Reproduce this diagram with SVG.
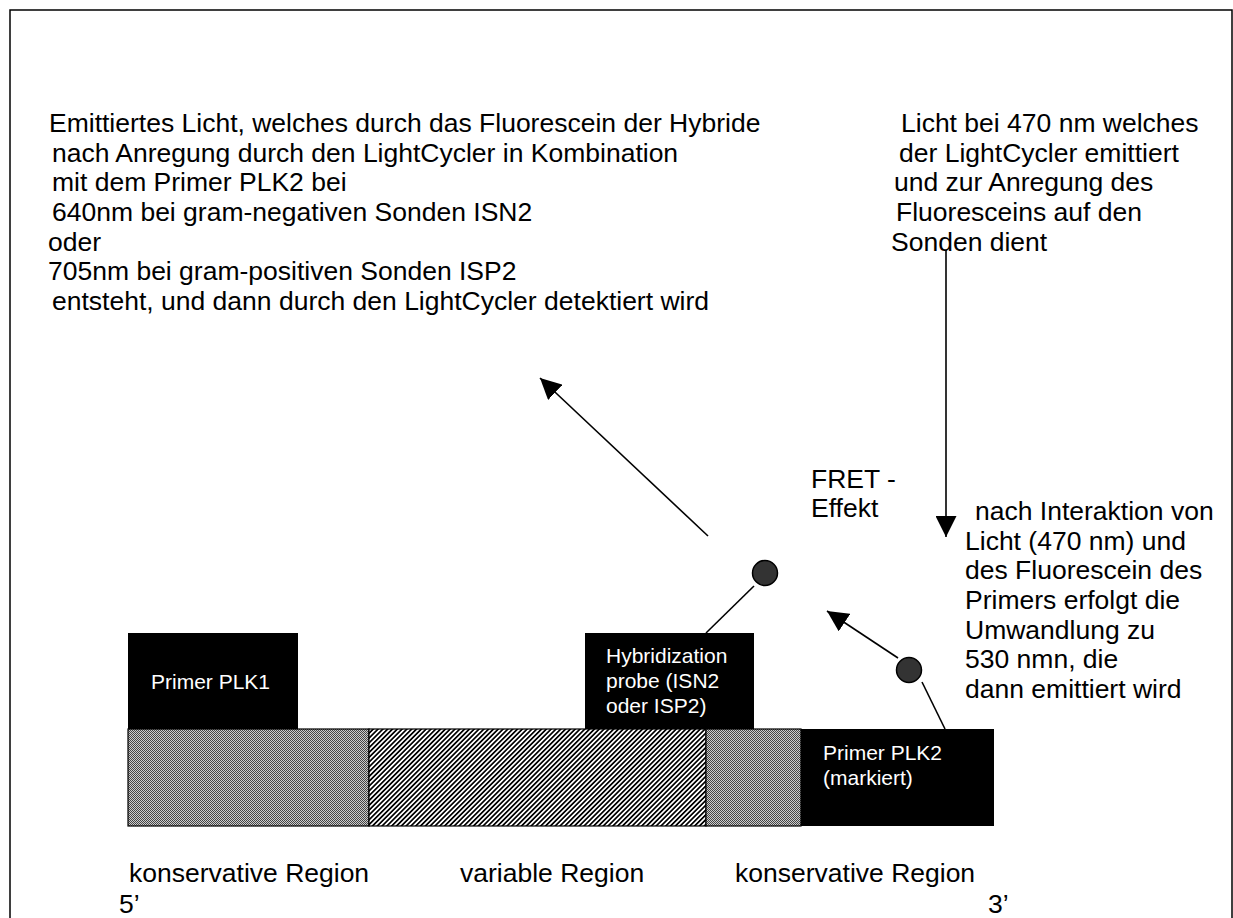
<svg xmlns="http://www.w3.org/2000/svg" width="1233" height="918" viewBox="0 0 1233 918">
<style>
text{font-family:"Liberation Sans",Arial,sans-serif;fill:#000}
.t{font-size:26.5px}
.b{font-size:21px;fill:#fff}
.ln{stroke:#000;stroke-width:1.6;fill:none}
.dot{fill:#333;stroke:#000;stroke-width:1.5}
.blk{fill:#000}
.reg{stroke:#000;stroke-width:1.2}
</style>
<defs>
<pattern id="dots" width="2" height="2" patternUnits="userSpaceOnUse">
<rect width="2" height="2" fill="#ccc"/>
<rect width="1" height="1" fill="#444"/>
<rect x="1" y="1" width="1" height="1" fill="#444"/>
</pattern>
<pattern id="stripes" width="3.4" height="3.4" patternUnits="userSpaceOnUse" patternTransform="rotate(45)">
<rect width="3.4" height="3.4" fill="#fff"/>
<rect width="1.7" height="3.4" fill="#000"/>
</pattern>
<marker id="ah" viewBox="0 0 20 20" refX="20" refY="10" markerWidth="21" markerHeight="21" markerUnits="userSpaceOnUse" orient="auto">
<path d="M0,0 L20,10 L0,20 z" fill="#000"/>
</marker>
</defs>
<rect width="1233" height="918" fill="#fff"/>
<path d="M10,918 V10 H1232 V918" fill="none" stroke="#000" stroke-width="1.5"/>

<g id="text-emission">
<text class="t" x="49" y="132">Emittiertes Licht, welches durch das Fluorescein der Hybride</text>
<text class="t" x="52" y="162">nach Anregung durch den LightCycler in Kombination</text>
<text class="t" x="52" y="191">mit dem Primer PLK2 bei</text>
<text class="t" x="52" y="221">640nm bei gram-negativen Sonden ISN2</text>
<text class="t" x="48" y="251">oder</text>
<text class="t" x="48" y="280">705nm bei gram-positiven Sonden ISP2</text>
<text class="t" x="52" y="310">entsteht, und dann durch den LightCycler detektiert wird</text>
</g>

<g id="text-light">
<text class="t" x="901" y="132">Licht bei 470 nm welches</text>
<text class="t" x="899" y="162">der LightCycler emittiert</text>
<text class="t" x="894" y="191">und zur Anregung des</text>
<text class="t" x="896" y="221">Fluoresceins auf den</text>
<text class="t" x="891" y="251">Sonden dient</text>
</g>

<g id="text-fret">
<text class="t" x="811" y="488">FRET -</text>
<text class="t" x="811" y="517">Effekt</text>
</g>

<g id="text-interaction">
<text class="t" x="975" y="520">nach Interaktion von</text>
<text class="t" x="965" y="550">Licht (470 nm) und</text>
<text class="t" x="965" y="579">des Fluorescein des</text>
<text class="t" x="965" y="609">Primers erfolgt die</text>
<text class="t" x="965" y="639">Umwandlung zu</text>
<text class="t" x="965" y="668">530 nmn, die</text>
<text class="t" x="965" y="698">dann emittiert wird</text>
</g>

<g id="region-cons1"><rect class="reg" x="128" y="729" width="241" height="97" fill="url(#dots)"/></g>
<g id="region-var"><rect class="reg" x="369" y="729" width="337" height="97" fill="url(#stripes)"/></g>
<g id="region-cons2"><rect class="reg" x="706" y="729" width="95" height="97" fill="url(#dots)"/></g>

<g id="primer-plk1">
<rect class="blk" x="128" y="633" width="170" height="96"/>
<text class="b" x="151" y="689">Primer PLK1</text>
</g>
<g id="probe">
<rect class="blk" x="585" y="633" width="169" height="96"/>
<text class="b" x="606" y="663">Hybridization</text>
<text class="b" x="606" y="688">probe (ISN2</text>
<text class="b" x="606" y="713">oder ISP2)</text>
</g>
<g id="primer-plk2">
<rect class="blk" x="801" y="729" width="193" height="97"/>
<text class="b" x="823" y="760">Primer PLK2</text>
<text class="b" x="823" y="785">(markiert)</text>
</g>

<g id="fluor1"><circle class="dot" cx="765" cy="573" r="12.5"/></g>
<g id="fluor2"><circle class="dot" cx="909" cy="670" r="12.5"/></g>

<g id="connectors">
<line class="ln" x1="754" y1="586" x2="706" y2="633"/>
<line class="ln" x1="922" y1="682" x2="945" y2="729"/>
<line class="ln" x1="708" y1="536" x2="540" y2="378" marker-end="url(#ah)"/>
<line class="ln" x1="898" y1="658" x2="827" y2="611" marker-end="url(#ah)"/>
<line class="ln" x1="946" y1="250" x2="946" y2="537" marker-end="url(#ah)"/>
</g>

<g id="bottom-labels">
<text class="t" x="129" y="882">konservative Region</text>
<text class="t" x="460" y="882">variable Region</text>
<text class="t" x="735" y="882">konservative Region</text>
<text class="t" x="119" y="913">5’</text>
<text class="t" x="988" y="913">3’</text>
</g>
</svg>
